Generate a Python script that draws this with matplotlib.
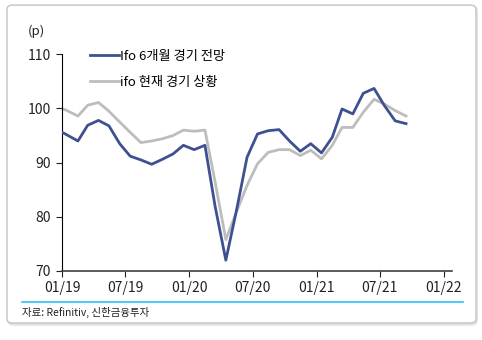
import matplotlib
matplotlib.use("Agg")
import matplotlib.pyplot as plt
import matplotlib.dates as mdates
from matplotlib.patches import FancyBboxPatch
import pandas as pd

plt.rcParams['font.family'] = ['Noto Sans CJK KR', 'DejaVu Sans']

# monthly readings, Dec 2018 - Sep 2021 (plotted mid-month)
months = pd.date_range('2018-12-01', periods=34, freq='MS') + pd.Timedelta(days=14)
expect = [96.2, 95.1, 94.0, 96.9, 97.8, 96.8, 93.5, 91.2, 90.5, 89.7, 90.6, 91.6,
          93.2, 92.4, 93.2, 82.0, 72.0, 81.0, 91.0, 95.3, 95.9, 96.1, 94.0, 92.1,
          93.5, 91.8, 94.7, 99.9, 99.0, 102.8, 103.7, 100.5, 97.7, 97.2]
current = [100.4, 99.6, 98.6, 100.6, 101.1, 99.5, 97.5, 95.6, 93.7, 94.0, 94.4, 95.0,
           96.0, 95.8, 96.0, 86.5, 75.8, 80.8, 85.8, 89.8, 91.9, 92.4, 92.4, 91.3,
           92.3, 90.7, 93.2, 96.5, 96.5, 99.3, 101.7, 100.8, 99.6, 98.6]
labels = ['Ifo 6개월 경기 전망', 'ifo 현재 경기 상황']
xticks = pd.to_datetime(['2019-01-01', '2019-07-01', '2020-01-01', '2020-07-01',
                         '2021-01-01', '2021-07-01', '2022-01-01'])

fig = plt.figure(figsize=(4.82, 3.4), dpi=100)

# rounded frame with a soft drop shadow
shadow = FancyBboxPatch((0.0165, 0.045), 0.973, 0.935, boxstyle="round,pad=0,rounding_size=0.012",
                        transform=fig.transFigure, facecolor='#d9d9d9', edgecolor='#e4e4e4',
                        linewidth=1.5, zorder=-6)
frame = FancyBboxPatch((0.0145, 0.05), 0.973, 0.935, boxstyle="round,pad=0,rounding_size=0.012",
                       transform=fig.transFigure, facecolor='white', edgecolor='#c4c4c4',
                       linewidth=1.0, zorder=-5)
fig.patches.extend([shadow, frame])

ax = fig.add_axes([62.3 / 482, 1 - 271 / 340, (452 - 62.3) / 482, (271 - 54.3) / 340])
ax.set_facecolor('none')

ax.plot(months, expect, color='#3d5191', linewidth=2.0, label=labels[0], zorder=3)
ax.plot(months, current, color='#bdbdbd', linewidth=2.0, label=labels[1], zorder=2)

ax.set_xlim(pd.Timestamp('2019-01-01'), pd.Timestamp('2022-01-25'))
ax.set_ylim(70, 110)
ax.set_yticks([70, 80, 90, 100, 110])
ax.set_xticks(xticks)
ax.xaxis.set_major_formatter(mdates.DateFormatter('%m/%y'))

for s in ['top', 'right']:
    ax.spines[s].set_visible(False)
ax.spines['left'].set_color('black')
ax.spines['bottom'].set_color('#404040')
ax.spines['bottom'].set_linewidth(1.2)
ax.tick_params(axis='both', direction='out', length=4, labelsize=10, colors='#222222')
ax.tick_params(axis='x', pad=3)
ax.tick_params(axis='y', pad=4)

ax.text(-0.088, 1.09, '(p)', transform=ax.transAxes, fontsize=9.5, color='#222222')

ax.legend(loc='upper left', bbox_to_anchor=(0.04, 1.075), frameon=False, fontsize=9.5,
          handlelength=2.2, handletextpad=0.1, labelspacing=1.0)

# source line
fig.add_artist(plt.Line2D([22 / 482, 463 / 482], [1 - 301.7 / 340] * 2,
                          color='#29c4f6', linewidth=1.2))
fig.text(22 / 482, 1 - 312 / 340, '자료: Refinitiv, 신한금융투자', fontsize=7.5,
         va='center', ha='left', color='#222222')

fig.savefig('out.png', dpi=100)
